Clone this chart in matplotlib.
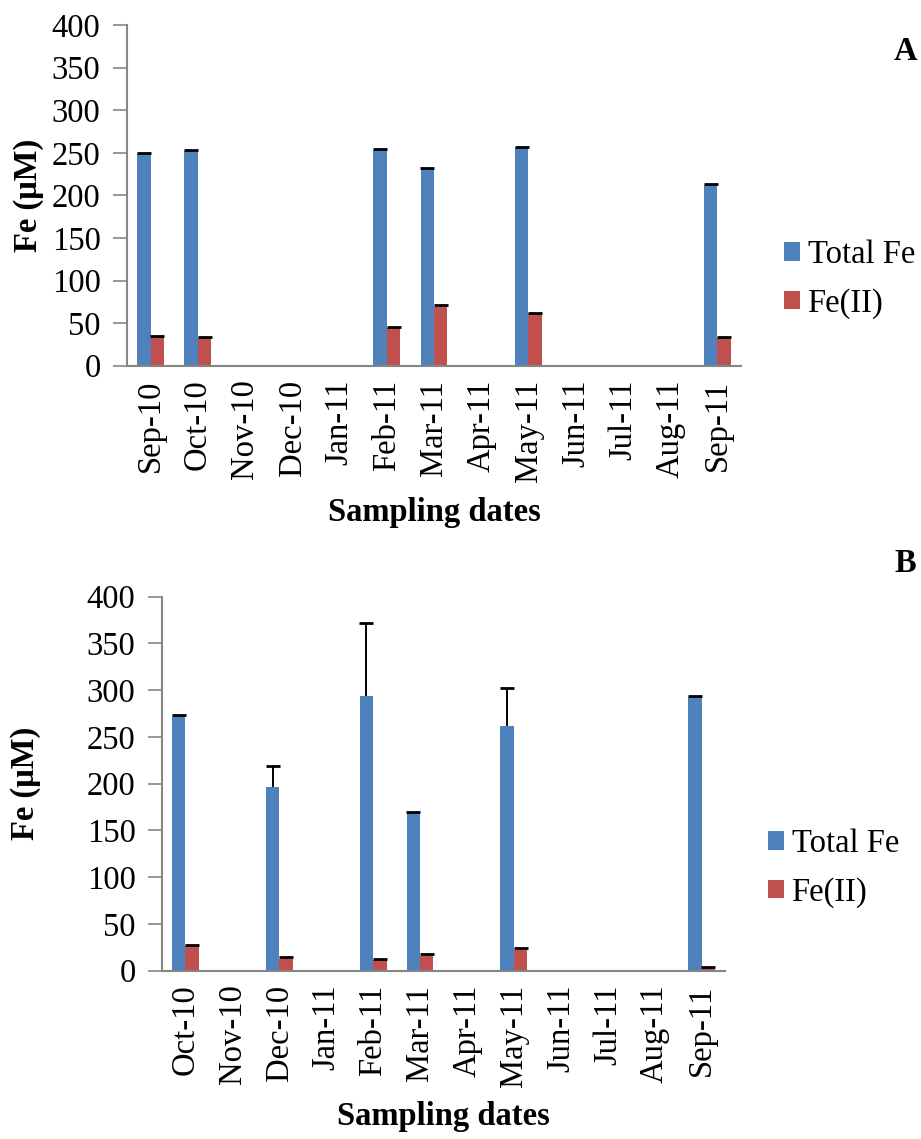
import numpy as np
import matplotlib
matplotlib.use("Agg")
import matplotlib.pyplot as plt
from matplotlib.patches import Patch

plt.rcParams['font.family'] = ['Liberation Serif', 'DejaVu Serif']

# Panel A: monthly sampling, Sep-10 to Sep-11
months_a = ["Sep-10", "Oct-10", "Nov-10", "Dec-10", "Jan-11", "Feb-11", "Mar-11",
            "Apr-11", "May-11", "Jun-11", "Jul-11", "Aug-11", "Sep-11"]
total_a = [249, 252, np.nan, np.nan, np.nan, 253, 231, np.nan, 256, np.nan, np.nan, np.nan, 212]
total_a_err = [1, 1, np.nan, np.nan, np.nan, 1, 1, np.nan, 1, np.nan, np.nan, np.nan, 1]
fe2_a = [34, 33, np.nan, np.nan, np.nan, 44, 69, np.nan, 61, np.nan, np.nan, np.nan, 33]
fe2_a_err = [1, 1, np.nan, np.nan, np.nan, 1, 2, np.nan, 1, np.nan, np.nan, np.nan, 1]

# Panel B: monthly sampling, Oct-10 to Sep-11
months_b = ["Oct-10", "Nov-10", "Dec-10", "Jan-11", "Feb-11", "Mar-11", "Apr-11",
            "May-11", "Jun-11", "Jul-11", "Aug-11", "Sep-11"]
total_b = [272, np.nan, 196, np.nan, 294, 169, np.nan, 262, np.nan, np.nan, np.nan, 293]
total_b_err = [1, np.nan, 22.5, np.nan, 78, 1, np.nan, 40, np.nan, np.nan, np.nan, 1]
fe2_b = [26, np.nan, 13, np.nan, 11, 16, np.nan, 22, np.nan, np.nan, np.nan, 2.5]
fe2_b_err = [1.5, np.nan, 1.8, np.nan, 1.8, 1.8, np.nan, 1.8, np.nan, np.nan, np.nan, 1.8]

series_names = ["Total Fe", "Fe(II)"]
BLUE = "#4F81BD"
RED = "#C0504D"
SPINE = "#868686"
FS = 23.5

W, H = 921, 1139
fig = plt.figure(figsize=(W / 100, H / 100), dpi=100)


def px_axes(left, top, right, bottom):
    return fig.add_axes([left / W, 1 - bottom / H, (right - left) / W, (bottom - top) / H])


def bars_with_upper_errors(ax, x, heights, errs, width, color):
    n = len(x)
    ekw = dict(ecolor="black", elinewidth=1.4, capsize=4.8, capthick=2.0)
    cont = ax.bar(x, heights, width, color=color, edgecolor="none",
                  yerr=[np.zeros(n), errs], error_kw=ekw, zorder=2)
    # keep only the upper cap of each error bar
    caplines = cont.errorbar.lines[1]
    if len(caplines) == 2:
        caplines[0].set_visible(False)
    return cont


def draw_panel(ax, months, total, total_err, fe2, fe2_err, ylab_x, xlab_y):
    n = len(months)
    x = np.arange(n)
    bw = 1 / 3.5
    bars_with_upper_errors(ax, x - bw / 2, np.array(total, float),
                           np.array(total_err, float), bw, BLUE)
    bars_with_upper_errors(ax, x + bw / 2, np.array(fe2, float),
                           np.array(fe2_err, float), bw, RED)
    ax.set_xlim(-0.5, n - 0.5)
    ax.set_ylim(0, 400)
    ax.set_yticks(np.arange(0, 401, 50))
    ax.set_xticks(x)
    ax.set_xticklabels(months, rotation=90, fontsize=FS)
    ax.tick_params(axis="x", length=0, pad=10)
    ax.tick_params(axis="y", length=10, width=1.2, color=SPINE, labelsize=FS, pad=9)
    for s in ("top", "right"):
        ax.spines[s].set_visible(False)
    for s in ("left", "bottom"):
        ax.spines[s].set_color(SPINE)
        ax.spines[s].set_linewidth(1.5)
    ax.set_ylabel("Fe (μM)", fontsize=FS, fontweight="bold", va="center")
    ax.yaxis.set_label_coords(ylab_x, 0.5)
    ax.set_xlabel("Sampling dates", fontsize=FS, fontweight="bold", va="center")
    ax.xaxis.set_label_coords(0.5, xlab_y)


def add_legend(left_px, center_px):
    handles = [Patch(facecolor=BLUE, edgecolor="none"), Patch(facecolor=RED, edgecolor="none")]
    fig.legend(handles, series_names, loc="center left",
               bbox_to_anchor=(left_px / W, 1 - center_px / H),
               frameon=False, fontsize=FS, handlelength=0.5, handleheight=0.5,
               handletextpad=0.22, labelspacing=0.55, borderpad=0, borderaxespad=0)


ax_a = px_axes(127, 25, 741, 365.7)
draw_panel(ax_a, months_a, total_a, total_a_err, fe2_a, fe2_a_err, -0.161, -0.432)
add_legend(784, 279)

ax_b = px_axes(162, 596.7, 725, 970.7)
draw_panel(ax_b, months_b, total_b, total_b_err, fe2_b, fe2_b_err, -0.2416, -0.391)
add_legend(768, 868)

fig.text(905 / W, 1 - 52 / H, "A", fontsize=FS, fontweight="bold", ha="center", va="center")
fig.text(905 / W, 1 - 563 / H, "B", fontsize=FS, fontweight="bold", ha="center", va="center")

fig.savefig("out.png", dpi=100)
